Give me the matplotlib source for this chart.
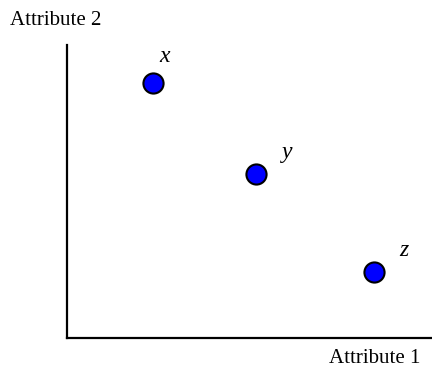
import matplotlib
matplotlib.use("Agg")
import matplotlib.pyplot as plt

labels = ["x", "y", "z"]
attr1 = [2.36, 5.18, 8.41]
attr2 = [8.70, 5.60, 2.25]
label_offsets = [(8.6, 15.1), (22.3, 11.5), (21.6, 11.5)]  # points, to baseline

plt.rcParams['font.family'] = ['Liberation Serif', 'DejaVu Serif']

fig = plt.figure(figsize=(4.32, 3.74), dpi=100)
W, H = 432, 374
ax = fig.add_axes([66.5 / W, (H - 338) / H, (W - 66.5) / W, (338 - 45) / H])
ax.set_xlim(0, 10)
ax.set_ylim(0, 10)
for s in ["top", "right"]:
    ax.spines[s].set_visible(False)
for s in ["left", "bottom"]:
    ax.spines[s].set_linewidth(1.6)
    ax.spines[s].set_color("black")
ax.set_xticks([])
ax.set_yticks([])
ax.patch.set_alpha(0)

ax.plot(attr1, attr2, linestyle="none", marker="o", markersize=14.5,
        markerfacecolor="#0000ff", markeredgecolor="black", markeredgewidth=1.5,
        clip_on=False)
for lab, xv, yv, off in zip(labels, attr1, attr2, label_offsets):
    ax.annotate(lab, (xv, yv), xytext=off, textcoords="offset points",
                fontsize=17, style="italic", ha="center", va="baseline")

fig.text(10 / W, 1 - 25 / H, "Attribute 2", fontsize=15, ha="left", va="baseline")
fig.text(420 / W, 1 - 363 / H, "Attribute 1", fontsize=15, ha="right", va="baseline")

fig.savefig("out.png", dpi=100)
